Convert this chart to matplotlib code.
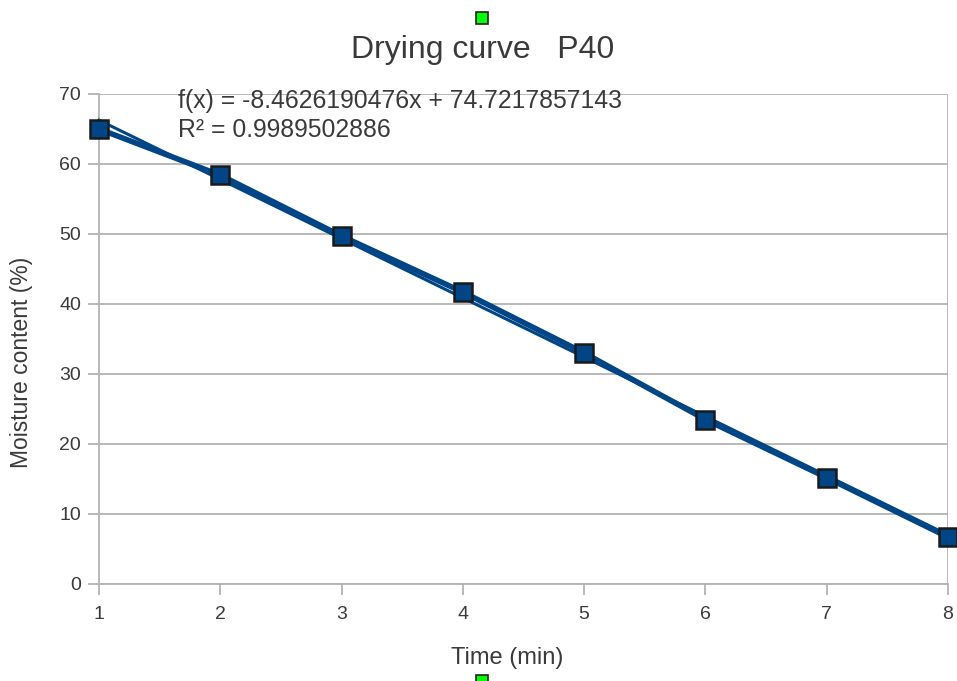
import numpy as np
import matplotlib
matplotlib.use("Agg")
import matplotlib.pyplot as plt
from matplotlib.patches import Rectangle

plt.rcParams['font.family'] = ['Liberation Sans', 'DejaVu Sans']

time_min = [1, 2, 3, 4, 5, 6, 7, 8]
moisture = [65.0, 58.4, 49.7, 41.7, 33.0, 23.5, 15.2, 6.7]
slope = -8.4626190476
intercept = 74.7217857143
r2 = 0.9989502886
y_ticks = [0, 10, 20, 30, 40, 50, 60, 70]

W, H = 957, 681
fig = plt.figure(figsize=(W / 100, H / 100), dpi=100)
ax = fig.add_axes([99 / W, 1 - 584 / H, (948 - 99) / W, (584 - 94) / H])

txt = '#3a3a3a'
grid = '#b3b3b3'
blue = '#004586'

ax.set_xlim(1, 8)
ax.set_ylim(0, 70)
ax.set_yticks(y_ticks)
ax.set_xticks(time_min)
for y in y_ticks:
    ax.axhline(y, color=grid, lw=1.3, zorder=0)
ax.axvline(8, color=grid, lw=1.3, zorder=0)
for s in ['top', 'right']:
    ax.spines[s].set_visible(False)
for s in ['left', 'bottom']:
    ax.spines[s].set_color(grid)
    ax.spines[s].set_linewidth(1.3)
ax.tick_params(axis='both', colors=grid, length=8, width=1.3, labelcolor=txt, labelsize=14)
ax.tick_params(axis='x', pad=8)
ax.tick_params(axis='y', pad=5)

xs = np.array(time_min, dtype=float)
ax.plot(xs, slope * xs + intercept, color=blue, lw=2.2, zorder=3, clip_on=False)
ax.plot(time_min, moisture, color=blue, lw=4, zorder=4, clip_on=False,
        marker='s', markersize=13, markerfacecolor=blue,
        markeredgecolor='#1a1a1a', markeredgewidth=1.8)

ax.set_xlabel('Time (min)', fontsize=17, color=txt)
ax.xaxis.set_label_coords(507 / W, 1 - 658 / H, transform=fig.transFigure)
ax.set_ylabel('Moisture content (%)', fontsize=16.5, color=txt)
ax.yaxis.set_label_coords(22 / W, 1 - 362 / H, transform=fig.transFigure)
ax.xaxis.label.set_va('center')
ax.yaxis.label.set_va('center')

fig.text(483 / W, 1 - 50 / H, 'Drying curve   P40', fontsize=23, color=txt,
         ha='center', va='center')

fig.text(178 / W, 1 - 101 / H, f'f(x) = {slope:.10f}x + {intercept:.10f}',
         fontsize=17.8, color=txt, ha='left', va='center')
fig.text(178 / W, 1 - 130 / H, f'R² = {r2:.10f}',
         fontsize=17.8, color=txt, ha='left', va='center')

for cy in (18, 681):
    fig.patches.append(Rectangle(((482 - 6) / W, 1 - (cy + 6) / H), 12 / W, 12 / H,
                                 transform=fig.transFigure, facecolor='#00ff00',
                                 edgecolor='#222222', lw=1.2, clip_on=False))

fig.savefig('out.png', dpi=100)
